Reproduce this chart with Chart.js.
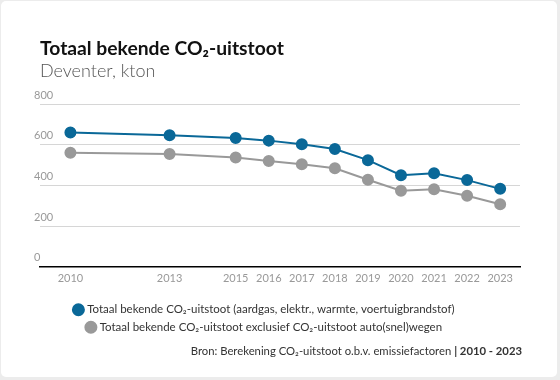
<!DOCTYPE html>
<html><head><meta charset="utf-8">
<script src="https://cdn.jsdelivr.net/npm/chart.js@4/dist/chart.umd.min.js"></script>
<style>
html,body{margin:0;padding:0;background:#ececec;width:560px;height:380px;overflow:hidden;font-family:Lato,"Open Sans",sans-serif;}
#card{position:absolute;left:1px;top:1px;width:556px;height:376px;background:#fff;border-radius:5px;}
#wrap{position:absolute;left:0;top:0;width:560px;height:380px;}
#title{position:absolute;left:40px;top:36px;font-size:19.3px;font-weight:700;color:#111;white-space:nowrap;}
#sub{position:absolute;left:40px;top:59px;font-size:18px;font-weight:300;color:#555;white-space:nowrap;}
#src{position:absolute;right:38px;top:344px;font-size:11.3px;color:#333;white-space:nowrap;}
</style></head>
<body>
<div id="card"></div>
<div id="wrap"><canvas id="c" width="560" height="380"></canvas></div>
<div id="title">Totaal bekende CO₂-uitstoot</div>
<div id="sub">Deventer, kton</div>
<div id="src">Bron: Berekening CO₂-uitstoot o.b.v. emissiefactoren <b>| 2010 - 2023</b></div>
<script>
const years = [2010, 2013, 2015, 2016, 2017, 2018, 2019, 2020, 2021, 2022, 2023];
const totaal = [660, 646, 633, 620, 602, 579, 524, 450, 460, 426, 383];
const exclWegen = [561, 554, 537, 520, 504, 484, 428, 374, 381, 349, 307];
const seriesNames = [
  "Totaal bekende CO₂-uitstoot (aardgas, elektr., warmte, voertuigbrandstof)",
  "Totaal bekende CO₂-uitstoot exclusief CO₂-uitstoot auto(snel)wegen"
];
const yTicks = [0, 200, 400, 600, 800];

const blue = "#0a6898", grey = "#999999";
const mk = (vals, col, name) => ({
  label: name,
  data: years.map((y, i) => ({x: y, y: vals[i]})),
  borderColor: col, backgroundColor: col,
  pointBackgroundColor: col, pointBorderColor: col,
  borderWidth: 2, pointRadius: 5, pointHoverRadius: 5, tension: 0
});

const legendShift = {
  id: 'legendShift',
  afterLayout(chart) { if (chart.legend) { chart.legend.right -= 30; } }
};

new Chart(document.getElementById('c'), {
  type: 'line',
  data: { datasets: [mk(totaal, blue, seriesNames[0]), mk(exclWegen, grey, seriesNames[1])] },
  plugins: [legendShift],
  options: {
    responsive: false, animation: false,
    layout: { padding: { top: 104, left: 40, right: 40, bottom: 37 } },
    plugins: {
      tooltip: { enabled: false },
      legend: {
        position: 'bottom',
        labels: {
          usePointStyle: true, pointStyle: 'circle', boxWidth: 6, boxHeight: 7.8,
          color: '#333', padding: 6,
          font: { family: 'Lato', size: 11.5 }
        }
      }
    },
    scales: {
      x: {
        type: 'linear', min: 2009.08, max: 2023.6,
        afterBuildTicks: s => { s.ticks = years.map(v => ({value: v})); },
        afterFit: s => { s.height += 8; },
        ticks: { color: '#999', font: { family: 'Lato', size: 11 }, padding: 5, callback: v => String(v), autoSkip: false, maxRotation: 0 },
        grid: { display: false, drawTicks: false },
        border: { display: true, color: '#000', width: 1.5 }
      },
      y: {
        min: 0, max: 800,
        afterBuildTicks: s => { s.ticks = yTicks.map(v => ({value: v})); },
        ticks: { mirror: true, padding: -2, labelOffset: -9, color: '#999', font: { family: 'Lato', size: 11 } },
        grid: { color: '#d6d6d6', lineWidth: 1, drawTicks: false },
        border: { display: false }
      }
    }
  }
});
</script>
</body></html>
